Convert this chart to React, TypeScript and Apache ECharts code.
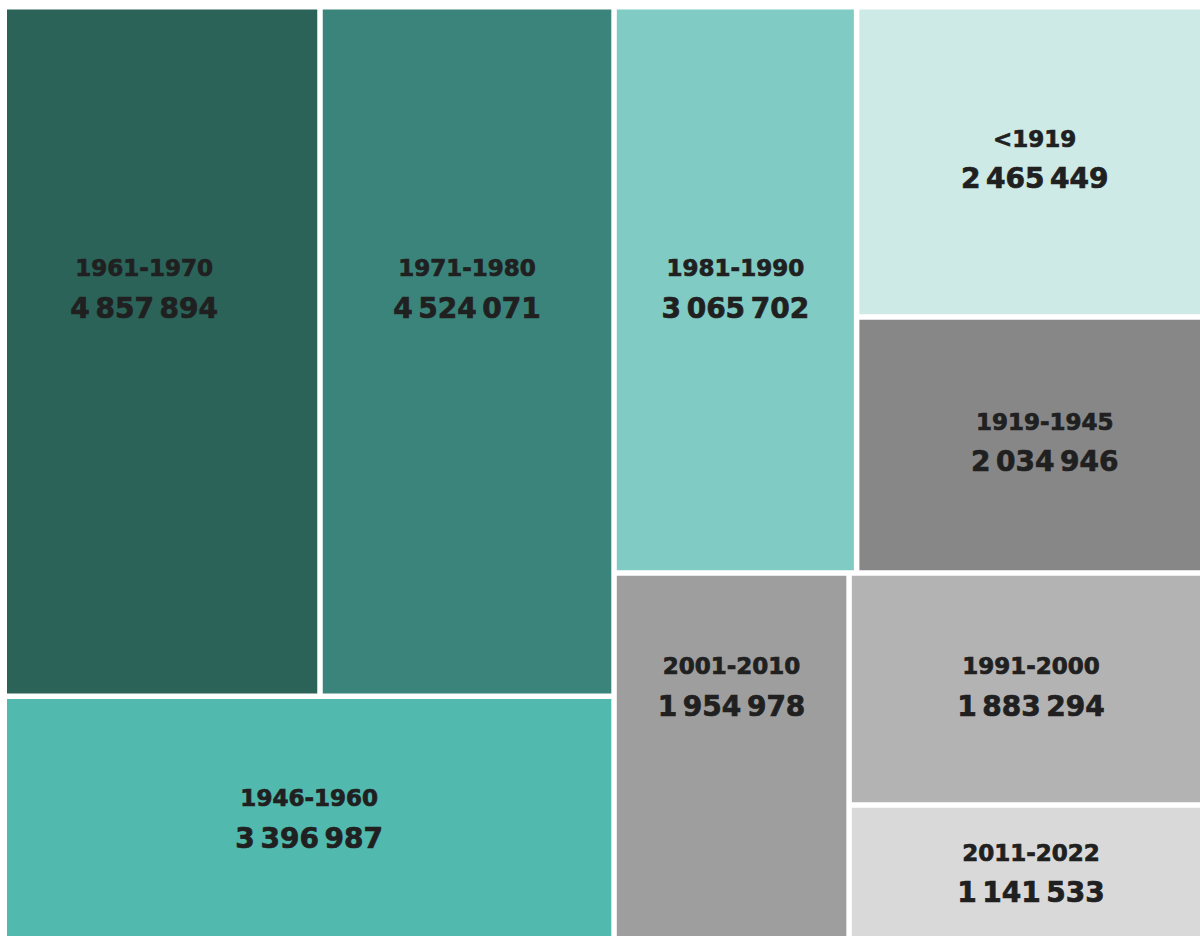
import React, { useEffect, useRef } from 'react';
import * as echarts from 'echarts';

// Construction period of dwellings and number of dwellings
const periods = ['1961-1970', '1971-1980', '1946-1960', '1981-1990', '<1919', '1919-1945', '2001-2010', '1991-2000', '2011-2022'];
const dwellings = [4857894, 4524071, 3396987, 3065702, 2465449, 2034946, 1954978, 1883294, 1141533];
// grouping of the tiles (indices into the lists above)
const nesting: any[] = [[0, 1, 2], [3, [4, 5], [6, [7, 8]]]];

const palette: Record<string, string> = {
  '1961-1970': '#2b6359',
  '1971-1980': '#3b847b',
  '1946-1960': '#52b9ae',
  '1981-1990': '#80cbc4',
  '<1919': '#cdeae7',
  '1919-1945': '#878787',
  '2001-2010': '#9e9e9e',
  '1991-2000': '#b3b3b3',
  '2011-2022': '#d9d9d9',
};

// label offsets (px) from the tile's top-centre text anchor
const labelShift: Record<string, number[]> = {
  '1961-1970': [-18, 233.5],
  '1971-1980': [0, 233.5],
  '1946-1960': [0, 74.5],
  '1981-1990': [0, 233.5],
  '<1919': [0, 104],
  '1919-1945': [10, 77],
  '2001-2010': [0, 65.5],
  '1991-2000': [0, 65.5],
  '2011-2022': [0, 20],
};

function fmt(v: number): string {
  return String(v).replace(/\B(?=(\d{3})+(?!\d))/g, '\u202F');
}

function build(node: any): any {
  if (typeof node === 'number') {
    const name = periods[node];
    return {
      name,
      value: dwellings[node],
      itemStyle: { color: palette[name] },
      label: { offset: labelShift[name] },
    };
  }
  return { name: '', children: node.map(build) };
}

export default function App() {
  const ref = useRef<HTMLDivElement>(null);
  useEffect(() => {
    if (!ref.current) return;
    const chart = echarts.init(ref.current, undefined, { renderer: 'svg' });
    const txt = {
      fontFamily: 'DejaVu Sans',
      fontWeight: 'bold' as const,
      lineHeight: 40,
      color: '#202020',
      textBorderColor: '#202020',
      textBorderWidth: 0.7,
    };
    chart.setOption({
      animation: false,
      backgroundColor: '#ffffff',
      series: [
        {
          type: 'treemap',
          left: 7,
          top: 9.5,
          width: 1203,
          height: 933.5,
          roam: false,
          nodeClick: false,
          silent: true,
          sort: false,
          squareRatio: 1.235,
          visibleMin: 0,
          breadcrumb: { show: false },
          itemStyle: { gapWidth: 5.5, borderWidth: 0, borderColor: '#ffffff' },
          upperLabel: { show: false },
          label: {
            show: true,
            position: 'inside',
            color: '#202020',
            formatter: (p: any) => `{a|${p.name}}\n{b|${fmt(p.value)}}`,
            rich: {
              a: { ...txt, fontSize: 23 },
              b: { ...txt, fontSize: 28 },
            },
          },
          data: nesting.map(build),
        },
      ],
    });
    return () => chart.dispose();
  }, []);
  return (
    <div
      ref={ref}
      style={{ position: 'fixed', left: 0, top: 0, width: 1200, height: 936, background: '#fff' }}
    />
  );
}
